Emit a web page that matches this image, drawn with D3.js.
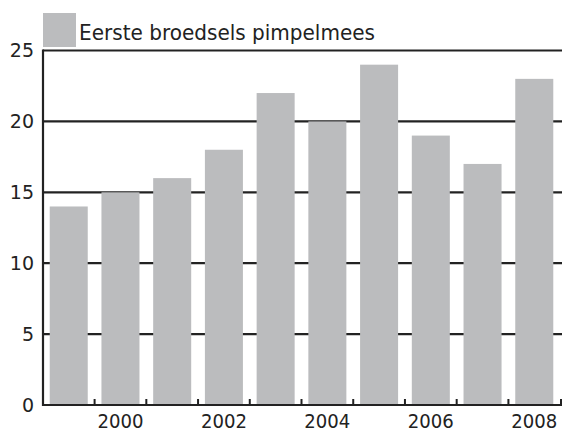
<!DOCTYPE html>
<html><head><meta charset="utf-8">
<script src="https://cdn.jsdelivr.net/npm/d3@7"></script>
<style>body{margin:0;background:#fff}svg{display:block}text{font-family:"DejaVu Sans",Verdana,sans-serif;fill:#222}</style>
</head><body><svg id="c" width="562" height="432"></svg>
<script>
const years = [1999,2000,2001,2002,2003,2004,2005,2006,2007,2008];
const values = [14,15,16,18,22,20,24,19,17,23];
const yTicks = [0,5,10,15,20,25];
const xLabels = [2000,2002,2004,2006,2008];
const seriesName = "Eerste broedsels pimpelmees";

(function(){
const svg = d3.select("#c");
const mLeft = 43, mRight = 560, mTop = 50.5, mBottom = 405;
const x = d3.scaleBand().domain(years).range([mLeft, mRight]).paddingInner(0.265).paddingOuter(0.13);
const y = d3.scaleLinear().domain([0,25]).range([mBottom, mTop]);
const ink = "#222";
const barColor = "#bbbcbe";

// gridlines
svg.append("g").selectAll("line").data(yTicks.filter(d=>d>0)).join("line")
  .attr("x1", mLeft).attr("x2", 562).attr("y1", d=>y(d)).attr("y2", d=>y(d))
  .attr("stroke", ink).attr("stroke-width", 2.2);

// bars
svg.append("g").selectAll("rect").data(years).join("rect")
  .attr("x", d=>x(d)).attr("width", x.bandwidth())
  .attr("y", (d,i)=>y(values[i])).attr("height", (d,i)=>y(0)-y(values[i]))
  .attr("fill", barColor);

// x ticks at band boundaries
const tickX = (d,i)=> i < years.length-1 ? (x(years[i])+x.bandwidth()+x(years[i+1]))/2 : 561;
svg.append("g").selectAll("line").data(years).join("line")
  .attr("x1", tickX).attr("x2", tickX)
  .attr("y1", mBottom).attr("y2", mBottom-6)
  .attr("stroke", ink).attr("stroke-width", 2);

// axes lines
svg.append("line").attr("x1", mLeft).attr("x2", mLeft).attr("y1", mTop-1).attr("y2", mBottom+1)
  .attr("stroke", ink).attr("stroke-width", 2.2);
svg.append("line").attr("x1", mLeft-1).attr("x2", 562).attr("y1", mBottom).attr("y2", mBottom)
  .attr("stroke", ink).attr("stroke-width", 2.2);

// y labels
svg.append("g").selectAll("text").data(yTicks).join("text")
  .attr("x", 34).attr("y", d=>y(d)).attr("dy", "0.36em")
  .attr("text-anchor", "end").attr("font-size", 19).text(d=>d);

// x labels
svg.append("g").selectAll("text").data(xLabels).join("text")
  .attr("x", d=>x(d)+x.bandwidth()/2).attr("y", 428)
  .attr("text-anchor", "middle").attr("font-size", 19)
  .attr("textLength", 46).attr("lengthAdjust", "spacingAndGlyphs").text(d=>d);

// legend
svg.append("rect").attr("x", 43).attr("y", 13).attr("width", 33).attr("height", 34).attr("fill", barColor);
svg.append("text").attr("x", 79).attr("y", 40).attr("font-size", 22)
  .attr("textLength", 296).attr("lengthAdjust", "spacingAndGlyphs").text(seriesName);
})();
</script></body></html>
